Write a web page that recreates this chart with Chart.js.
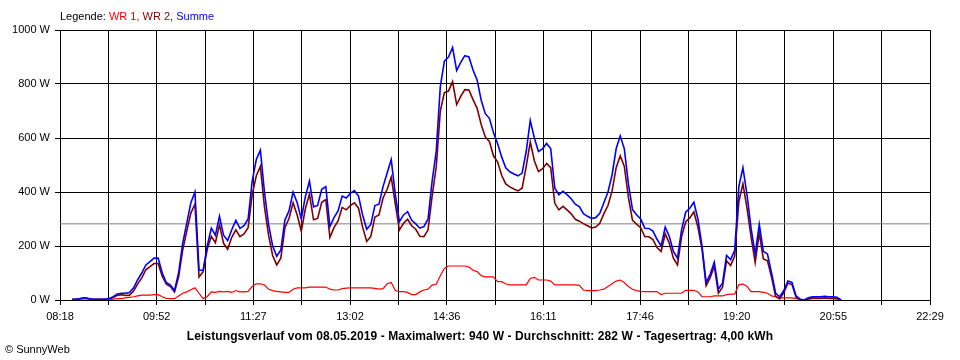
<!DOCTYPE html>
<html>
<head>
<meta charset="utf-8">
<script src="https://cdn.jsdelivr.net/npm/chart.js@4/dist/chart.umd.min.js"></script>
<style>
  html, body { margin: 0; padding: 0; background: #fff; }
  #wrap { position: relative; width: 960px; height: 360px; overflow: hidden; }
  #c { position: absolute; left: 0; top: 0; }
  .txt { position: absolute; font-family: "Liberation Sans", Arial, sans-serif; font-size: 11px; color: #000; white-space: nowrap; line-height: 13px; }
  #legend { left: 60px; top: 10px; }
  #title { left: 0; width: 960px; text-align: center; top: 330px; font-weight: bold; font-size: 12px; letter-spacing: 0.1px; }
  #copy { left: 5px; top: 343px; }
</style>
</head>
<body>
<div id="wrap">
  <canvas id="c" width="960" height="360"></canvas>
  <div class="txt" id="legend">Legende: <span style="color:#ff0000">WR 1,</span> <span style="color:#800000">WR 2,</span> <span style="color:#0000ff">Summe</span></div>
  <div class="txt" id="title">Leistungsverlauf vom 08.05.2019 - Maximalwert: 940 W - Durchschnitt: 282 W - Tagesertrag: 4,00 kWh</div>
  <div class="txt" id="copy">© SunnyWeb</div>
</div>
<script>
// Time axis: minutes after 08:18, axis ends at 22:29
const axisMaxMinutes = 851;
const startMinute = 12;   // first sample 08:30
const stepMinutes = 4;    // sampling interval
const tickLabels = ["08:18","09:52","11:27","13:02","14:36","16:11","17:46","19:20","20:55","22:29"];
const averageW = 282;

// Summe (blue)
const sumW = [
  3,3,5,8,5,3,3,3,3,5,
  12,22,25,25,28,45,75,100,130,142,
  155,155,100,65,55,35,100,210,285,360,
  400,110,110,200,266,240,310,240,220,260,
  295,265,275,300,440,520,555,400,280,200,
  162,185,296,330,400,360,300,383,440,345,
  350,410,420,272,305,330,385,378,395,405,
  385,315,262,280,350,355,420,470,520,390,
  290,315,327,295,282,266,272,300,440,550,
  790,885,900,935,850,880,905,900,852,815,
  740,690,673,620,580,530,490,475,467,460,
  470,550,665,600,550,560,580,560,414,390,
  403,390,375,355,346,320,310,302,305,321,
  360,400,463,560,608,560,430,335,316,300,
  266,265,255,225,200,270,235,180,155,260,
  325,340,362,300,200,65,95,140,40,62,
  165,150,185,420,490,390,265,170,280,180,
  170,100,25,12,35,70,65,15,3,0,
  8,12,12,12,14,12,12,10,0
];
// WR 1 (red)
const wr1W = [
  0,0,0,0,0,0,0,0,0,0,
  3,5,5,8,10,12,15,18,18,18,
  20,20,12,6,5,5,15,25,30,38,
  45,25,5,12,30,28,32,30,32,28,
  35,30,30,32,50,60,60,55,40,35,
  32,30,28,28,40,45,45,45,48,48,
  48,48,48,40,37,37,42,44,45,45,
  45,45,45,45,43,40,42,60,65,35,
  31,31,28,20,20,30,37,40,55,58,
  90,117,126,126,126,126,126,122,110,105,
  90,86,86,86,68,68,60,56,56,56,
  56,56,80,84,74,74,74,70,56,56,
  56,56,56,56,54,37,35,35,35,37,
  40,50,60,70,74,65,50,40,35,32,
  31,31,31,31,20,25,25,25,25,25,
  36,36,36,30,12,12,12,15,15,15,
  20,22,22,56,60,50,31,31,31,28,
  25,15,12,8,8,8,8,5,2,0,
  3,5,5,6,6,6,6,5,0
];
// WR 2 (dark red)
const wr2W = [
  3,3,5,8,5,3,3,3,3,5,
  9,17,20,17,18,33,60,82,112,124,
  135,135,88,59,50,30,85,185,255,322,
  355,85,105,188,236,212,278,210,188,232,
  260,235,245,268,390,460,495,345,240,165,
  130,155,268,302,360,315,255,338,392,297,
  302,362,372,232,268,293,343,334,350,360,
  340,270,217,235,307,315,378,410,455,355,
  259,284,299,275,262,236,235,260,385,492,
  700,768,774,809,724,754,779,778,742,710,
  650,604,587,534,512,462,430,419,411,404,
  414,494,585,516,476,486,506,490,358,334,
  347,334,319,299,292,283,275,267,270,284,
  320,350,403,490,534,495,380,295,281,268,
  235,234,224,194,180,245,210,155,130,235,
  289,304,326,270,188,53,83,125,25,47,
  145,128,163,364,430,340,234,139,249,152,
  145,85,13,4,27,62,57,10,1,0,
  5,7,7,6,8,6,6,5,0
];

const toXY = arr => arr.map((v, i) => ({ x: startMinute + i * stepMinutes, y: v }));
const font = { family: "Liberation Sans, Arial, sans-serif", size: 11 };

new Chart(document.getElementById('c'), {
  type: 'line',
  data: {
    datasets: [
      { label: 'Summe', data: toXY(sumW), borderColor: '#0000ff', borderWidth: 1.6, order: 0 },
      { label: 'WR 2', data: toXY(wr2W), borderColor: '#800000', borderWidth: 1.6, order: 1 },
      { label: 'WR 1', data: toXY(wr1W), borderColor: '#ff0000', borderWidth: 1.2, order: 2 },
      { label: 'Durchschnitt', data: [{ x: 0, y: averageW }, { x: axisMaxMinutes, y: averageW }], borderColor: '#808080', borderWidth: 1, order: 3 }
    ]
  },
  options: {
    responsive: false,
    animation: false,
    events: [],
    layout: { padding: { top: 30, right: 30, left: 0, bottom: 0 } },
    elements: { point: { radius: 0 }, line: { tension: 0, fill: false } },
    plugins: { legend: { display: false }, tooltip: { enabled: false }, title: { display: false } },
    scales: {
      x: {
        type: 'linear', min: 0, max: axisMaxMinutes,
        afterFit: s => { s.height = 60; },
        afterBuildTicks: s => { s.ticks = Array.from({ length: 19 }, (_, i) => ({ value: i * axisMaxMinutes / 18 })); },
        grid: { color: '#000', lineWidth: 1, tickLength: 5, drawTicks: true },
        border: { color: '#000', width: 1 },
        ticks: {
          autoSkip: false, maxRotation: 0, padding: 5, color: '#000', font,
          callback: (v, i) => (i % 2 === 0 ? tickLabels[i / 2] : '')
        }
      },
      y: {
        min: 0, max: 1000,
        afterFit: s => { s.width = 60; },
        grid: { color: '#000', lineWidth: 1, tickLength: 5 },
        border: { color: '#000', width: 1 },
        ticks: { stepSize: 200, padding: 5, color: '#000', font, callback: v => v + ' W' }
      }
    }
  }
});
</script>
</body>
</html>
